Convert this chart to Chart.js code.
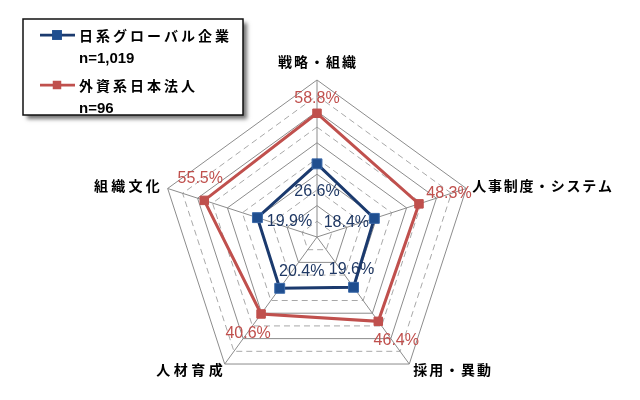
<!DOCTYPE html>
<html>
<head>
<meta charset="utf-8">
<script src="https://cdn.jsdelivr.net/npm/chart.js@4.4.0/dist/chart.umd.min.js"></script>
<style>
html,body{margin:0;padding:0;background:#fff;}
#wrap{width:640px;height:400px;position:relative;}
</style>
</head>
<body>
<div id="wrap"><canvas id="c" width="640" height="400"></canvas></div>
<script>
const categories = ['戦略・組織', '人事制度・システム', '採用・異動', '人材育成', '組織文化'];
const japanGlobal = [26.6, 18.4, 19.6, 20.4, 19.9];
const foreignAffiliates = [58.8, 48.3, 46.4, 40.6, 55.5];
const seriesNames = ['日系グローバル企業', '外資系日本法人'];
const sampleSizes = ['n=1,019', 'n=96'];
const scaleMin = -20, scaleMax = 80, scaleStep = 10;

// style: label offsets (px) relative to points / vertices
const valueLabelOffsets = [
  [[0, 28], [-28, 4], [-2, -18], [22, -17], [32, 4]],
  [[0, -15], [30, -10], [18, 19], [-13, 20], [-4, -22]]
];
const valueLabelColors = ['#1f3864', '#c0504d'];
const catLabelStyle = [
  {dx: 0, dy: -18, align: 'center', sp: 2},
  {dx: 6, dy: -3, align: 'left', sp: 1.7},
  {dx: 4, dy: 6, align: 'left', sp: 1.9},
  {dx: -2, dy: 6, align: 'right', sp: 3.5},
  {dx: -8, dy: -3, align: 'right', sp: 3.25}
];

const JP = '"Noto Sans CJK JP", "Noto Sans", sans-serif';
const LAT = '"Liberation Sans", Arial, sans-serif';

function setSpacing(ctx, v) { if ('letterSpacing' in ctx) ctx.letterSpacing = v + 'px'; }

const valueLabelsPlugin = {
  id: 'valueLabels',
  afterDatasetsDraw(chart) {
    const ctx = chart.ctx;
    ctx.save();
    ctx.font = '16px ' + LAT;
    ctx.textAlign = 'center';
    ctx.textBaseline = 'middle';
    chart.data.datasets.forEach((ds, di) => {
      const meta = chart.getDatasetMeta(di);
      meta.data.forEach((el, i) => {
        const off = valueLabelOffsets[di][i];
        ctx.fillStyle = valueLabelColors[di];
        ctx.fillText(ds.data[i].toFixed(1) + '%', el.x + off[0], el.y + off[1]);
      });
    });
    ctx.restore();
  }
};

const catLabelsPlugin = {
  id: 'catLabels',
  afterDraw(chart) {
    const scale = chart.scales.r;
    const ctx = chart.ctx;
    ctx.save();
    ctx.font = 'bold 14px ' + JP;
    ctx.fillStyle = '#000';
    ctx.textBaseline = 'middle';
    chart.data.labels.forEach((lab, i) => {
      const p = scale.getPointPosition(i, scale.drawingArea);
      const st = catLabelStyle[i];
      setSpacing(ctx, st.sp);
      let x = p.x + st.dx;
      ctx.textAlign = st.align;
      if (st.align === 'right') x += st.sp;
      if (st.align === 'center') x += st.sp / 2;
      ctx.fillText(lab, x, p.y + st.dy);
    });
    ctx.restore();
  }
};

const boxLegendPlugin = {
  id: 'boxLegend',
  afterDraw(chart) {
    const ctx = chart.ctx;
    const bx = 23, by = 19, bw = 220, bh = 96;
    ctx.save();
    ctx.shadowColor = 'rgba(0,0,0,0.55)';
    ctx.shadowBlur = 4;
    ctx.shadowOffsetX = 4;
    ctx.shadowOffsetY = 4;
    ctx.fillStyle = '#fff';
    ctx.fillRect(bx, by, bw, bh);
    ctx.restore();
    ctx.save();
    ctx.strokeStyle = '#111';
    ctx.lineWidth = 1.5;
    ctx.strokeRect(bx, by, bw, bh);
    const rows = [35, 85];
    chart.data.datasets.forEach((ds, di) => {
      const y = rows[di];
      ctx.strokeStyle = ds.borderColor;
      ctx.lineWidth = 2.75;
      ctx.beginPath();
      ctx.moveTo(40, y);
      ctx.lineTo(75, y);
      ctx.stroke();
      const s = ds.pointRadius * Math.SQRT1_2;
      ctx.fillStyle = ds.pointBackgroundColor;
      ctx.fillRect(57 - s, y - s, 2 * s, 2 * s);
      ctx.fillStyle = '#000';
      ctx.textBaseline = 'middle';
      ctx.textAlign = 'left';
      ctx.font = 'bold 14px ' + JP;
      setSpacing(ctx, 3);
      ctx.fillText(ds.label, 79, y + 1);
      setSpacing(ctx, 0);
      ctx.font = 'bold 15px ' + LAT;
      ctx.fillText(sampleSizes[di], 79, y + 24);
    });
    ctx.restore();
  }
};

new Chart(document.getElementById('c'), {
  type: 'radar',
  data: {
    labels: categories,
    datasets: [
      {
        label: seriesNames[0],
        data: japanGlobal,
        borderColor: '#1b3a6e',
        borderWidth: 3,
        fill: false,
        backgroundColor: 'rgba(0,0,0,0)',
        pointStyle: 'rect',
        pointRadius: 7,
        pointBackgroundColor: '#1f4e8f',
        pointBorderColor: '#3b69a8',
        pointBorderWidth: 1,
        tension: 0
      },
      {
        label: seriesNames[1],
        data: foreignAffiliates,
        borderColor: '#c0504d',
        borderWidth: 3,
        fill: false,
        backgroundColor: 'rgba(0,0,0,0)',
        pointStyle: 'rect',
        pointRadius: 6,
        pointBackgroundColor: '#c0504d',
        pointBorderColor: '#c0504d',
        pointBorderWidth: 1,
        tension: 0
      }
    ]
  },
  options: {
    responsive: false,
    animation: false,
    devicePixelRatio: 1,
    layout: {padding: {left: 160, right: 166, top: 80, bottom: 6}},
    plugins: {legend: {display: false}, tooltip: {enabled: false}},
    scales: {
      r: {
        min: scaleMin,
        max: scaleMax,
        ticks: {display: false, stepSize: scaleStep},
        pointLabels: {display: false},
        angleLines: {display: true, color: '#8c8c8c', lineWidth: 1},
        grid: {
          color: (c) => (c.index % 2 ? '#a8a8a8' : '#8c8c8c'),
          lineWidth: 1
        },
        border: {
          dash: (c) => (c.index % 2 ? [6, 4] : [])
        }
      }
    }
  },
  plugins: [valueLabelsPlugin, catLabelsPlugin, boxLegendPlugin]
});
</script>
</body>
</html>
